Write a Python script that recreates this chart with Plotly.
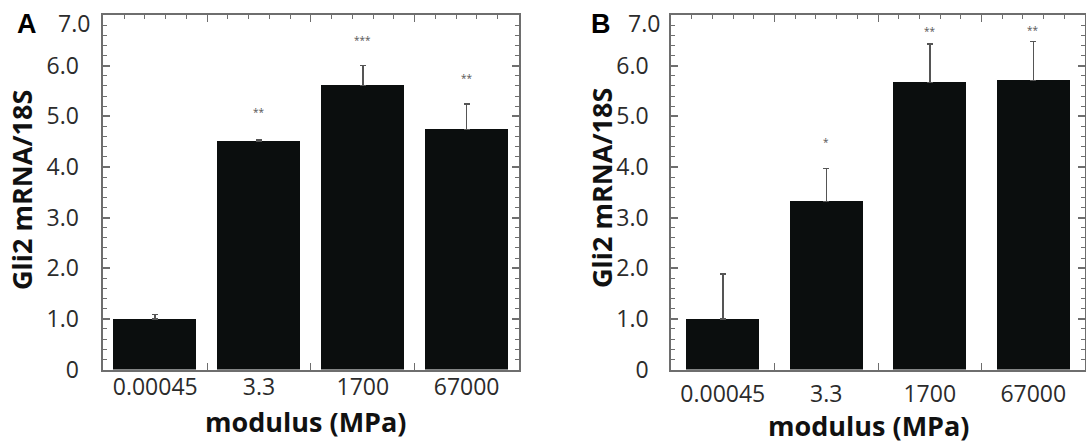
import plotly.graph_objects as go

# ---------------------------------------------------------
# DATA
# ---------------------------------------------------------
modulus_labels = ["0.00045", "3.3", "1700", "67000"]

gli2_a = [1.0, 4.51, 5.61, 4.74]
err_a = [0.09, 0.03, 0.39, 0.50]
stars_a = ["", "**", "***", "**"]
star_y_a = [None, 5.09, 6.5, 5.76]

gli2_b = [1.0, 3.32, 5.67, 5.71]
err_b = [0.89, 0.65, 0.76, 0.77]
stars_b = ["", "*", "**", "**"]
star_y_b = [None, 4.5, 6.68, 6.71]

y_tickvals = [0, 1, 2, 3, 4, 5, 6, 7]
y_ticktext = ["0", "1.0", "2.0", "3.0", "4.0", "5.0", "6.0", "7.0"]

W, H = 1086, 445
BAR_COLOR = "#0b0e0e"
AX_COLOR = "#6e6e6e"
TXT_COLOR = "#2b2b2b"
FONT = "Open Sans"


def px_x(v):
    return v / W


def px_y(v):
    return 1 - v / H


x_pos = list(range(len(modulus_labels)))
top_minor = [round(-0.5 + i * 0.2, 2) for i in range(21)]
top_minor = [v for v in top_minor if abs(v - round(v - 0.5) - 0.5) > 1e-6]

# the top label sits a little below its tick in the original (it would be cut off otherwise)
axis_ticktext = y_ticktext[:-1] + [""]

# screen pixel layout -> paper fractions
y_dom = [px_y(369.5), px_y(15)]
x_dom_a = [px_x(103.3), px_x(518.5)]
x_dom_b = [px_x(671), px_x(1085)]

fig = go.Figure()

fig.add_trace(go.Bar(
    x=x_pos, y=gli2_a, width=0.8, marker=dict(color=BAR_COLOR, line=dict(width=0)),
    error_y=dict(type="data", array=err_a, arrayminus=[0] * 4, symmetric=False,
                 color="#555555", thickness=1.5, width=3),
    xaxis="x", yaxis="y", showlegend=False
))
fig.add_trace(go.Bar(
    x=x_pos, y=gli2_b, width=0.71, marker=dict(color=BAR_COLOR, line=dict(width=0)),
    error_y=dict(type="data", array=err_b, arrayminus=[0] * 4, symmetric=False,
                 color="#555555", thickness=1.5, width=3),
    xaxis="x2", yaxis="y2", showlegend=False
))
# dummy traces so the top minor-tick axes get drawn
fig.add_trace(go.Scatter(x=[None], y=[None], xaxis="x3", yaxis="y", showlegend=False, hoverinfo="skip"))
fig.add_trace(go.Scatter(x=[None], y=[None], xaxis="x4", yaxis="y2", showlegend=False, hoverinfo="skip"))


def xaxis_cfg(dom, anchor, standoff):
    return dict(
        domain=dom, anchor=anchor, range=[-0.5, 3.5], automargin=False,
        tickvals=x_pos, ticktext=modulus_labels, ticks="", ticklen=0,
        ticklabelstandoff=standoff, ticklabeloverflow="allow",
        minor=dict(tickvals=[0.5, 1.5, 2.5], ticks="inside", ticklen=7,
                   tickcolor=AX_COLOR, tickwidth=1.2, showgrid=False),
        showline=True, linecolor=AX_COLOR, linewidth=1.5, mirror="ticks",
        showgrid=False, zeroline=False,
        tickfont=dict(family=FONT, size=23, color=TXT_COLOR),
    )


def top_cfg(overlay, dom):
    return dict(
        domain=dom, overlaying=overlay, side="top", range=[-0.5, 3.5], automargin=False,
        tickvals=top_minor, ticks="inside", ticklen=4, tickcolor=AX_COLOR, tickwidth=1,
        showticklabels=False, showgrid=False, zeroline=False, showline=False,
    )


def yaxis_cfg(anchor, standoff):
    return dict(
        domain=y_dom, anchor=anchor, range=[0, 7], automargin=False,
        tickvals=y_tickvals, ticktext=axis_ticktext, ticks="inside", ticklen=7,
        tickcolor=AX_COLOR, tickwidth=1.5, ticklabelstandoff=standoff,
        ticklabeloverflow="allow",
        minor=dict(dtick=0.2, tick0=0, ticks="inside", ticklen=4,
                   tickcolor=AX_COLOR, tickwidth=1, showgrid=False),
        showline=True, linecolor=AX_COLOR, linewidth=1.5, mirror="ticks",
        showgrid=False, zeroline=False,
        tickfont=dict(family=FONT, size=23, color=TXT_COLOR),
    )


annotations = []
for xv, s, yv in zip(x_pos, stars_a, star_y_a):
    if s:
        annotations.append(dict(x=xv, y=yv, xref="x", yref="y", text=s, showarrow=False,
                                font=dict(family=FONT, size=10, color="#555")))
for xv, s, yv in zip(x_pos, stars_b, star_y_b):
    if s:
        annotations.append(dict(x=xv, y=yv, xref="x2", yref="y2", text=s, showarrow=False,
                                font=dict(family=FONT, size=10, color="#555")))

# top y label, nudged down
for lx in [92, 662]:
    annotations.append(dict(x=px_x(lx), y=px_y(23), xref="paper", yref="paper",
                            text=y_ticktext[-1], showarrow=False,
                            xanchor="right", yanchor="middle",
                            font=dict(family=FONT, size=23, color=TXT_COLOR)))

# axis titles as paper annotations
title_font = dict(family=FONT, size=27, color="#111")
annotations.append(dict(x=px_x(306), y=px_y(421), xref="paper", yref="paper",
                        text="<b>modulus (MPa)</b>", showarrow=False,
                        xanchor="center", yanchor="middle", font=title_font))
annotations.append(dict(x=px_x(869), y=0, xref="paper", yref="paper",
                        text="<b>modulus (MPa)</b>", showarrow=False,
                        xanchor="center", yanchor="bottom", borderpad=0, font=title_font))
for tx, ty in [(22, 190), (602, 188)]:
    annotations.append(dict(x=px_x(tx), y=px_y(ty), xref="paper", yref="paper",
                            text="<b>Gli2 mRNA/18S</b>", showarrow=False, textangle=-90,
                            xanchor="center", yanchor="middle", font=title_font))

# panel letters
for letter, lx in [("A", 15), ("B", 589)]:
    annotations.append(dict(x=px_x(lx), y=px_y(24), xref="paper", yref="paper",
                            text="<b>" + letter + "</b>", showarrow=False,
                            xanchor="left", yanchor="middle",
                            font=dict(family="Liberation Sans", size=27, color="#000")))

fig.update_layout(
    width=W, height=H,
    margin=dict(l=0, r=0, t=0, b=0),
    paper_bgcolor="white", plot_bgcolor="white",
    xaxis=xaxis_cfg(x_dom_a, "y", -4),
    xaxis2=xaxis_cfg(x_dom_b, "y2", 3),
    xaxis3=top_cfg("x", x_dom_a),
    xaxis4=top_cfg("x2", x_dom_b),
    yaxis=yaxis_cfg("x", 18),
    yaxis2=yaxis_cfg("x2", 16),
    annotations=annotations,
    bargap=0,
)

# drop the default 8px page margin so the figure sits at the window corner
fig.write_html("out.html", config={"displayModeBar": False},
               post_script="document.body.style.margin='0';")
